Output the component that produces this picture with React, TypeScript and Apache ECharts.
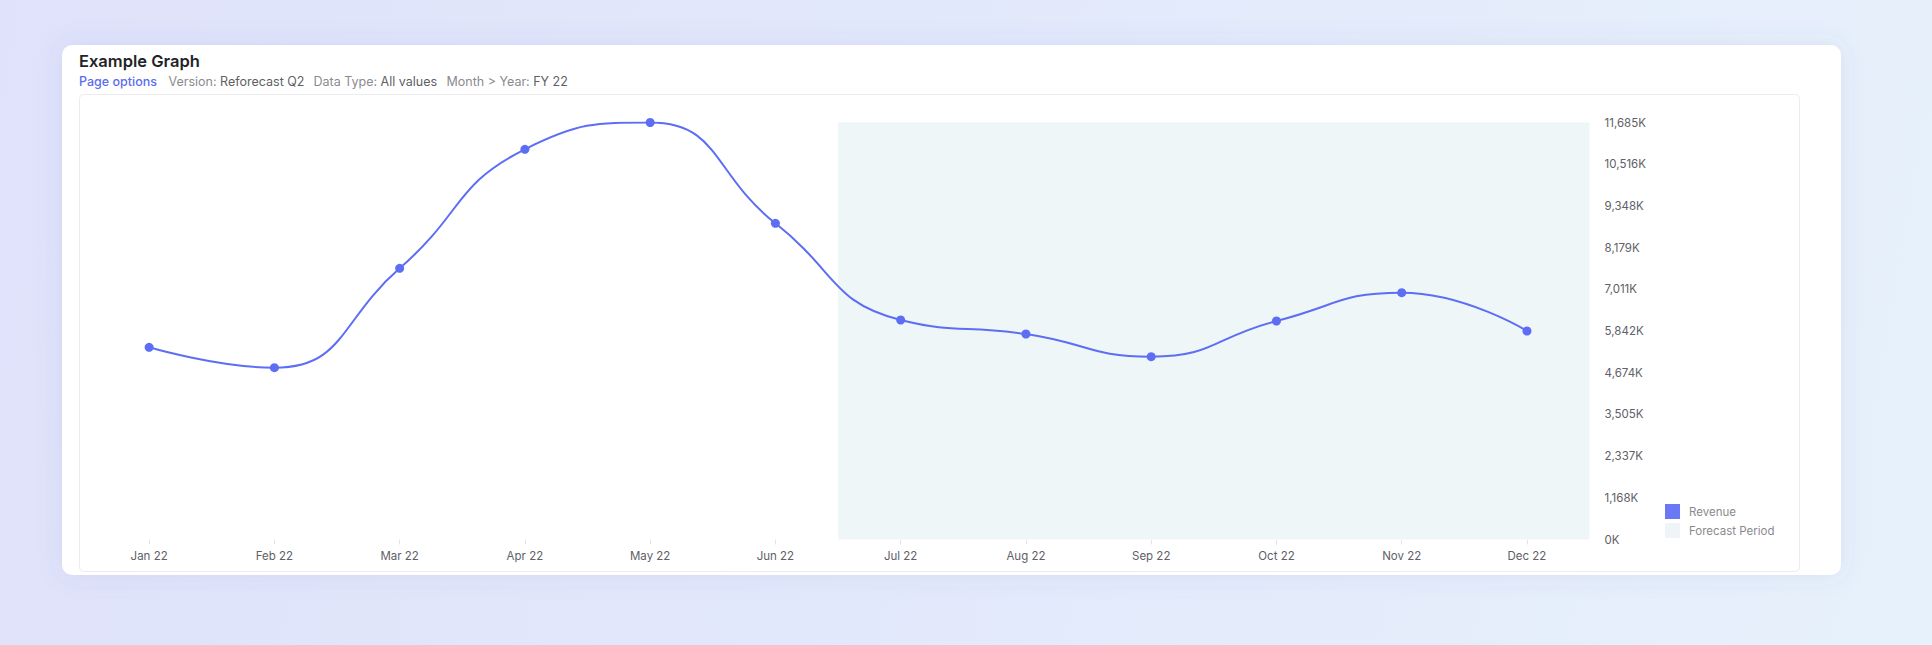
import React, { useEffect, useRef } from "react";
import * as echarts from "echarts";

const categories = ["Jan 22", "Feb 22", "Mar 22", "Apr 22", "May 22", "Jun 22", "Jul 22", "Aug 22", "Sep 22", "Oct 22", "Nov 22", "Dec 22"];
const revenueK = [5385, 4814, 7599, 10934, 11685, 8860, 6151, 5758, 5122, 6123, 6916, 5842];
const yMaxK = 11685;
const ySteps = 10;
const forecastStart = "Jul 22";

const title = "Example Graph";
const linkText = "Page options";
const filterLabels = ["Version:", "Data Type:", "Month > Year:"];
const filterValues = ["Reforecast Q2", "All values", "FY 22"];
const filterX = [168.5, 313.5, 446.5];

const FONT = "Inter, 'Noto Sans', sans-serif";

export default function App() {
  const ref = useRef<HTMLDivElement>(null);
  useEffect(() => {
    if (!ref.current) return;
    const chart = echarts.init(ref.current, null, { renderer: "svg" });
    chart.setOption({
      animation: false,
      backgroundColor: "transparent",
      textStyle: { fontFamily: FONT },
      graphic: [
        {
          type: "rect",
          z: -20,
          silent: true,
          shape: { x: 62, y: 45, width: 1779, height: 530, r: 10 },
          style: { fill: "#ffffff", shadowBlur: 24, shadowColor: "rgba(90,100,170,0.10)" },
        },
        {
          type: "rect",
          z: -19,
          silent: true,
          shape: { x: 79.5, y: 94.5, width: 1720, height: 477, r: 4 },
          style: { fill: "none", stroke: "#ececf0", lineWidth: 1 },
        },
        {
          type: "text",
          z: 10,
          x: 79,
          y: 61,
          style: { text: title, fill: "#222327", fontSize: 16.5, fontWeight: 600, fontFamily: FONT, verticalAlign: "middle" },
        },
        {
          type: "text",
          z: 10,
          x: 79,
          y: 81.5,
          style: { text: linkText, fill: "#5b6ef0", fontSize: 12.5, fontWeight: 500, fontFamily: FONT, verticalAlign: "middle" },
        },
        ...filterLabels.map((lab, i) => ({
          type: "text",
          z: 10,
          x: filterX[i],
          y: 81.5,
          style: {
            text: `{l|${lab}} {v|${filterValues[i]}}`,
            fontSize: 12.5,
            fontFamily: FONT,
            verticalAlign: "middle",
            fill: "#8b8b8f",
            rich: {
              l: { fill: "#8b8b8f", fontSize: 12.5, fontWeight: 400, fontFamily: FONT },
              v: { fill: "#5f5f64", fontSize: 12.5, fontWeight: 400, fontFamily: FONT },
            },
          },
        })),
      ],
      grid: { left: 86.5, right: 342.4, top: 122.5, bottom: 105.5 },
      legend: {
        orient: "vertical",
        left: 1665,
        top: 504,
        padding: 0,
        icon: "rect",
        itemWidth: 15,
        itemHeight: 15,
        itemGap: 4,
        textStyle: { fontSize: 11.5, color: "#8a8a8e", fontFamily: FONT, padding: [0, 0, 0, 4] },
        data: [
          { name: "Revenue", itemStyle: { color: "#6b78f6" } },
          { name: "Forecast Period", itemStyle: { color: "#eff4f8" } },
        ],
      },
      xAxis: [
        {
          type: "category",
          data: categories,
          boundaryGap: true,
          axisLine: { show: false },
          axisTick: { show: true, alignWithLabel: true, length: 5, lineStyle: { color: "#e4e4e8" } },
          axisLabel: { color: "#606066", fontSize: 11.5, margin: 10, fontFamily: FONT },
          splitLine: { show: false },
        },
        {
          type: "value",
          min: 0,
          max: categories.length,
          show: false,
        },
      ],
      yAxis: {
        type: "value",
        position: "right",
        min: 0,
        max: yMaxK,
        interval: yMaxK / ySteps,
        axisLine: { show: false },
        axisTick: { show: false },
        splitLine: { show: false },
        axisLabel: {
          color: "#606066",
          fontSize: 11.5,
          margin: 15,
          align: "left",
          fontFamily: FONT,
          formatter: (v: number) => Math.floor(v + 1e-6).toLocaleString("en-US") + "K",
        },
      },
      series: [
        {
          name: "Forecast Period",
          type: "line",
          xAxisIndex: 1,
          data: [],
          itemStyle: { color: "#eff4f8" },
          z: 1,
          markArea: {
            silent: true,
            itemStyle: { color: "#eef6f8" },
            data: [[{ xAxis: categories.indexOf(forecastStart) }, { xAxis: categories.length }]],
          },
        },
        {
          name: "Revenue",
          type: "line",
          data: revenueK,
          smooth: true,
          z: 5,
          symbol: "circle",
          symbolSize: 9,
          lineStyle: { color: "#5d6ef4", width: 2 },
          itemStyle: { color: "#5d6ef4" },
        },
      ],
    });
    return () => chart.dispose();
  }, []);
  return (
    <div
      style={{
        position: "fixed",
        left: 0,
        top: 0,
        width: 1932,
        height: 645,
        background: "linear-gradient(100deg, #dfe2fa 0%, #e2e8fb 45%, #e7f1fb 100%)",
      }}
    >
      <div ref={ref} style={{ width: 1932, height: 645 }} />
    </div>
  );
}
